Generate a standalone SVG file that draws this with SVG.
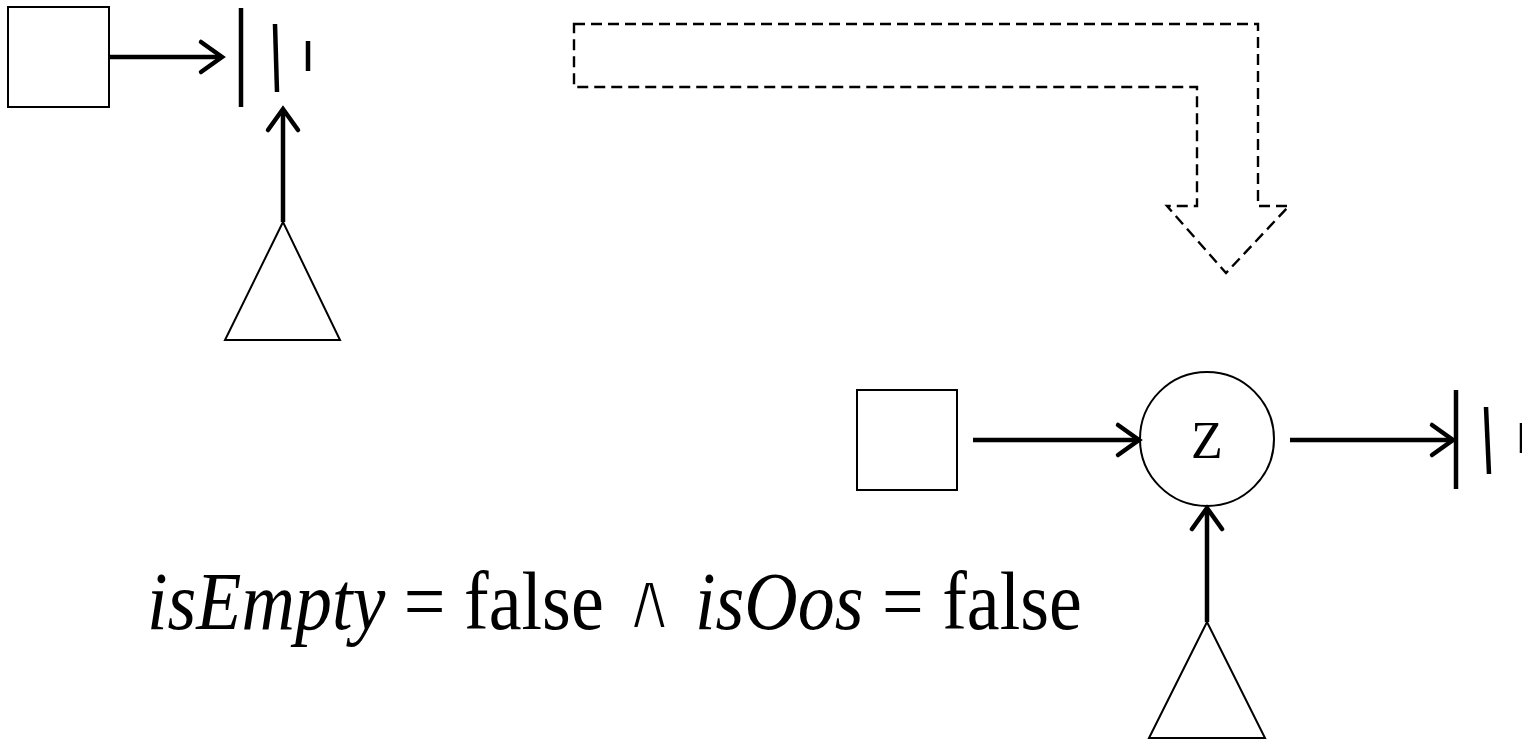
<svg xmlns="http://www.w3.org/2000/svg" width="1522" height="741" viewBox="0 0 1522 741">
<style>
.box{fill:#fff;stroke:#000;stroke-width:2}
.edge{stroke:#000;stroke-width:4.5;fill:none}
.bar{stroke:#000;stroke-width:4.5}
.dash{fill:none;stroke:#000;stroke-width:2.4;stroke-dasharray:11 6}
.txt{font-family:"Liberation Serif","Times New Roman",serif;fill:#000}
</style>
<defs>
<marker id="chev" markerUnits="userSpaceOnUse" viewBox="-30 -20 40 40" markerWidth="40" markerHeight="40" refX="0" refY="0" orient="auto" overflow="visible">
<path d="M-21,-15 L0,0 L-21,15" fill="none" stroke="#000" stroke-width="4.5" stroke-linecap="round" stroke-linejoin="miter"/>
</marker>
</defs>
<g id="before">
<g id="n-square1"><rect class="box" x="8" y="7" width="101" height="100"/></g>
<g id="n-ground1">
<line class="bar" x1="241" y1="8" x2="241" y2="107"/>
<line class="bar" x1="275" y1="24" x2="277" y2="92"/>
<line class="bar" x1="308" y1="41" x2="308" y2="71"/>
</g>
<g id="n-tri1"><polygon class="box" points="283,222 225,340 340,340"/></g>
</g>
<g id="transition"><polygon class="dash" points="574,24 1258,24 1258,206 1289,206 1226,273 1167,206 1197,206 1197,87 574,87"/></g>
<g id="after">
<g id="n-square2"><rect class="box" x="857" y="390" width="100" height="100"/></g>
<g id="n-z"><circle class="box" cx="1207" cy="439" r="67"/><text class="txt" x="1207" y="458" font-size="52" text-anchor="middle">Z</text></g>
<g id="n-ground2">
<line class="bar" x1="1456" y1="390" x2="1456" y2="489"/>
<line class="bar" x1="1486" y1="407" x2="1489" y2="474"/>
<line class="bar" x1="1522" y1="423" x2="1522" y2="453"/>
</g>
<g id="n-tri2"><polygon class="box" points="1207,622 1149,738 1265,738"/></g>
</g>
<g id="connectors">
<line class="edge" x1="109" y1="57" x2="222" y2="57" marker-end="url(#chev)"/>
<line class="edge" x1="283" y1="222" x2="283" y2="109" marker-end="url(#chev)"/>
<line class="edge" x1="973" y1="440" x2="1139" y2="440" marker-end="url(#chev)"/>
<line class="edge" x1="1290" y1="440" x2="1453" y2="440" marker-end="url(#chev)"/>
<line class="edge" x1="1207" y1="622" x2="1207" y2="508" marker-end="url(#chev)"/>
</g>
<text id="condition" class="txt" transform="translate(147,629) scale(1,1.12)" x="0" y="0" font-size="74"><tspan font-style="italic">isEmpty</tspan> = false <tspan font-family="DejaVu Sans" font-size="74" stroke="#fff" stroke-width="3.5">∧</tspan> <tspan font-style="italic">isOos</tspan> = false</text>
</svg>
